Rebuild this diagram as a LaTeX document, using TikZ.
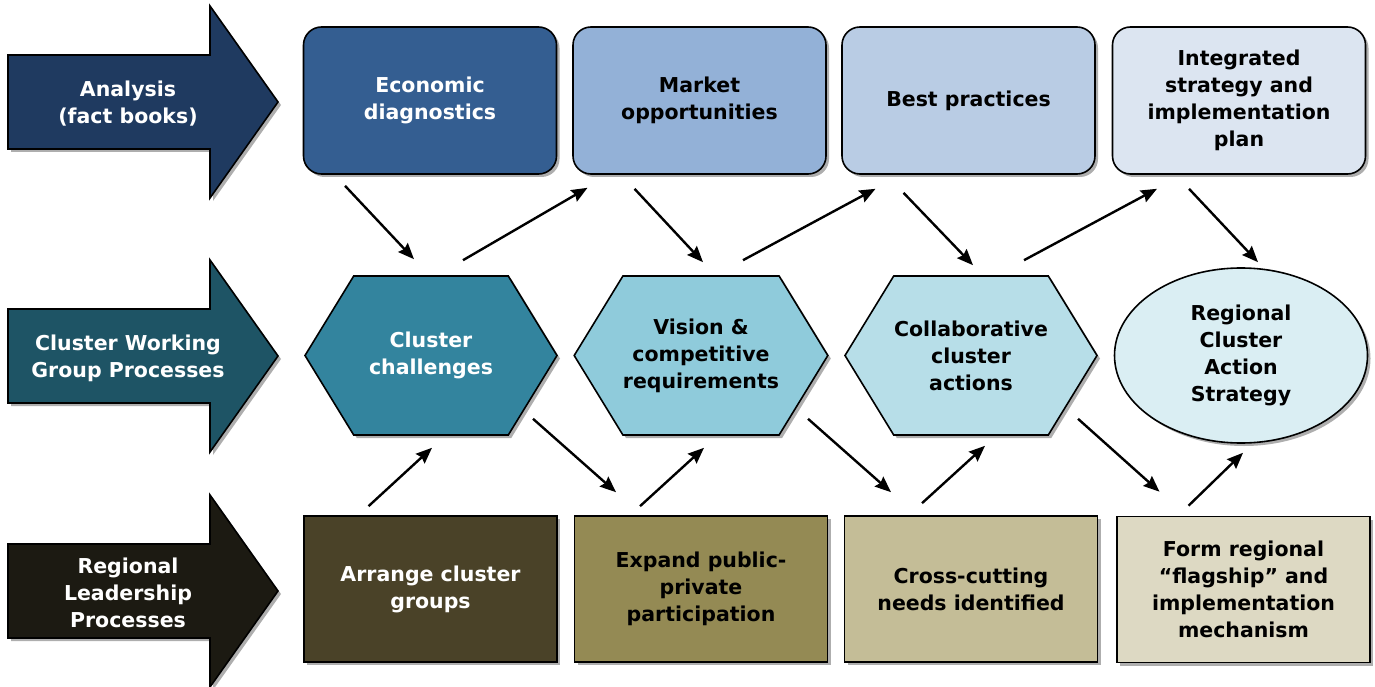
\documentclass[tikz,border=0pt]{standalone}
\usepackage{fontspec}
\setmainfont{DejaVu Sans}
\usepackage{xcolor}
\usepackage{tikz}
\usetikzlibrary{positioning,calc,shapes.geometric,shapes.symbols,shadows,arrows.meta}

\definecolor{anaC}{RGB}{31,58,96}
\definecolor{cwgC}{RGB}{30,84,101}
\definecolor{rlpC}{RGB}{28,26,18}
\definecolor{ecoC}{RGB}{52,94,145}
\definecolor{mktC}{RGB}{147,177,215}
\definecolor{bestC}{RGB}{185,204,228}
\definecolor{integC}{RGB}{220,229,241}
\definecolor{cluC}{RGB}{51,132,158}
\definecolor{visC}{RGB}{143,203,219}
\definecolor{colC}{RGB}{183,222,232}
\definecolor{racsC}{RGB}{218,238,243}
\definecolor{arrC}{RGB}{74,66,40}
\definecolor{expC}{RGB}{148,138,84}
\definecolor{crossC}{RGB}{196,189,151}
\definecolor{formC}{RGB}{221,217,195}

\tikzset{
  shade/.style={drop shadow={shadow xshift=3pt,shadow yshift=-3pt,fill=black!45,opacity=.7}},
  lbl/.style={align=center,font=\fontsize{20.5}{27}\selectfont\bfseries},
  bigarrow/.style={draw=black,line width=1.6pt,shade},
  topbox/.style={lbl,draw=black,line width=1.6pt,rounded corners=18pt,minimum width=253pt,minimum height=147pt,inner sep=0pt,shade},
  hexa/.style={lbl,draw=black,line width=1.6pt,signal,signal to=east and west,signal pointer angle=117,minimum width=252pt,minimum height=159pt,inner sep=0pt,shade},
  oval/.style={lbl,draw=black,line width=1.6pt,ellipse,minimum width=253pt,minimum height=175pt,inner sep=0pt,shade},
  botbox/.style={lbl,draw=black,line width=1.6pt,rectangle,minimum width=253pt,minimum height=146pt,inner sep=0pt,shade},
  link/.style={line width=2.4pt,-{Stealth[length=16pt,width=13pt,inset=2pt]}}
}

\begin{document}
\begin{tikzpicture}[x=1pt,y=-1pt]
\useasboundingbox (0,0) rectangle (1375,687);

% row arrows on the left
\foreach \n/\y/\c/\t in {ana/102/anaC/{Analysis\\(fact books)},cwg/356/cwgC/{Cluster Working\\Group Processes},rlp/591/rlpC/{Regional\\Leadership\\Processes}}{
  \draw[bigarrow,fill=\c] (8,\y-47) -- (210,\y-47) -- (210,\y-96) -- (278,\y) -- (210,\y+96) -- (210,\y+47) -- (8,\y+47) -- cycle;
  \node[lbl,text=white] (\n) at (128,\y+2) {\t};
}

% analysis row
\node[topbox,fill=ecoC,text=white] (eco) at (430,100.5) {Economic\\diagnostics};
\node[topbox,fill=mktC] (mkt) at (699.5,100.5) {Market\\opportunities};
\node[topbox,fill=bestC] (best) at (968.5,100.5) {Best practices};
\node[topbox,fill=integC] (integ) at (1239,100.5) {Integrated\\strategy and\\implementation\\plan};

% working group row
\node[hexa,fill=cluC,text=white] (clu) at (431,355.5) {Cluster\\challenges};
\node[hexa,fill=visC] (vis) at (701,355.5) {Vision \&\\competitive\\requirements};
\node[hexa,fill=colC] (collab) at (971,355.5) {Collaborative\\cluster\\actions};
\node[oval,fill=racsC] (racs) at (1241,355.5) {Regional\\Cluster\\Action\\Strategy};

% leadership row
\node[botbox,fill=arrC,text=white] (arr) at (430.5,589) {Arrange cluster\\groups};
\node[botbox,fill=expC] (expd) at (701,589) {Expand public-\\private\\participation};
\node[botbox,fill=crossC] (cross) at (971,589) {Cross-cutting\\needs identified};
\node[botbox,fill=formC] (form) at (1243.5,589.5) {Form regional\\“flagship” and\\implementation\\mechanism};

% upper links
\draw[link] ($(eco.south)+(-85,11)$) -- ($(clu.north)+(-17,-16)$);
\draw[link] ($(clu.north)+(32,-15)$) -- ($(mkt.south)+(-112,13)$);
\draw[link] ($(mkt.south)+(-65,14)$) -- ($(vis.north)+(2,-13)$);
\draw[link] ($(vis.north)+(42,-15)$) -- ($(best.south)+(-93,14)$);
\draw[link] ($(best.south)+(-65,18)$) -- ($(collab.north)+(2,-10)$);
\draw[link] ($(collab.north)+(53,-15)$) -- ($(integ.south)+(-82,14)$);
\draw[link] ($(integ.south)+(-50,14)$) -- ($(racs.north)+(17,-5)$);

% lower links
\draw[link] ($(arr.north)+(-62,-9)$) -- ($(clu.south)+(1,12)$);
\draw[link] ($(clu.south)+(102,-17)$) -- ($(expd.north)+(-85,-23)$);
\draw[link] ($(expd.north)+(-61,-9)$) -- ($(vis.south)+(3,12)$);
\draw[link] ($(vis.south)+(107,-17)$) -- ($(cross.north)+(-80,-23)$);
\draw[link] ($(cross.north)+(-49,-12)$) -- ($(collab.south)+(14,10)$);
\draw[link] ($(collab.south)+(107,-17)$) -- ($(form.north)+(-84,-24)$);
\draw[link] ($(form.north)+(-55,-10)$) -- ($(racs.south)+(2,9)$);
\end{tikzpicture}
\end{document}
